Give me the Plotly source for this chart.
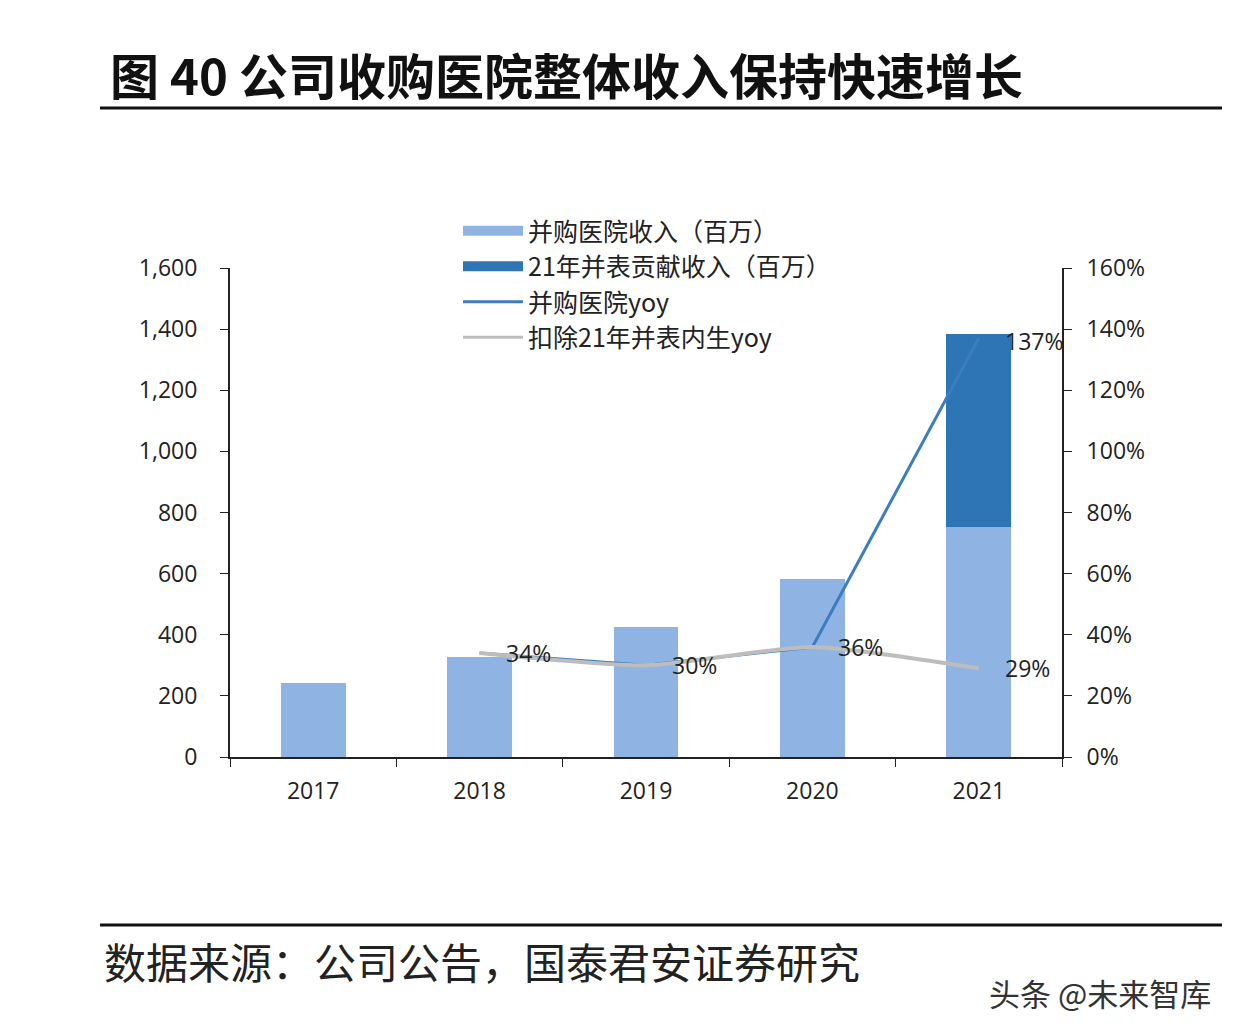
import plotly.graph_objects as go

years = ["2017", "2018", "2019", "2020", "2021"]
rev_acq = [242, 327, 425, 582, 753]
rev_consol21 = [0, 0, 0, 0, 631]
yoy_acq = [None, 0.34, 0.30, 0.36, 1.37]
yoy_organic = [None, 0.34, 0.30, 0.36, 0.29]
yoy_acq_labels = ["", "", "", "", "137%"]
yoy_org_labels = ["", "34%", "30%", "36%", "29%"]

CJK = "Noto Sans CJK SC"
NUM = "Open Sans"
LIGHT = "#8FB4E3"
DARK = "#2E75B6"
BLUE = "#3C7DC0"
GRAY = "#BDBDBD"

# plot area geometry in px (page has 8px body margin)
L, T, PW, PH = 222, 260, 832, 489
W, H = 1230, 1026


def px(xp):
    return (xp - 8 - L) / PW


def py(yp):
    return (T + 8 + PH - yp) / PH


fig = go.Figure()
fig.add_trace(go.Bar(x=years, y=rev_acq, name="并购医院收入（百万）", showlegend=False,
                     marker=dict(color=LIGHT, line=dict(width=0)), width=0.39))
fig.add_trace(go.Bar(x=years, y=rev_consol21, name="21年并表贡献收入（百万）", showlegend=False,
                     marker=dict(color=DARK, line=dict(width=0)), width=0.39))
fig.add_trace(go.Scatter(x=years, y=yoy_acq, name="并购医院yoy", mode="lines", showlegend=False,
                         line=dict(color=BLUE, width=3), yaxis="y2"))
fig.add_trace(go.Scatter(x=years, y=yoy_organic, name="扣除21年并表内生yoy", mode="lines", showlegend=False,
                         line=dict(color=GRAY, width=4, shape="spline", smoothing=0.6), yaxis="y2"))

# legend entries (wide rectangle swatches like the original)
fig.add_trace(go.Scatter(x=[None], y=[None], mode="lines", name="并购医院收入（百万）",
                         line=dict(color=LIGHT, width=15)))
fig.add_trace(go.Scatter(x=[None], y=[None], mode="lines", name="21年并表贡献收入（百万）",
                         line=dict(color=DARK, width=15)))
fig.add_trace(go.Scatter(x=[None], y=[None], mode="lines", name="并购医院yoy",
                         line=dict(color=BLUE, width=3)))
fig.add_trace(go.Scatter(x=[None], y=[None], mode="lines", name="扣除21年并表内生yoy",
                         line=dict(color=GRAY, width=3)))

for i, (v, lab) in enumerate(zip(yoy_organic, yoy_org_labels)):
    if lab:
        fig.add_annotation(x=i, y=v, xref="x", yref="y2", text=lab, showarrow=False,
                           xanchor="left", yanchor="middle", xshift=24,
                           font=dict(family=NUM, size=23, color="#222"))
for i, (v, lab) in enumerate(zip(yoy_acq, yoy_acq_labels)):
    if lab:
        fig.add_annotation(x=i, y=v, xref="x", yref="y2", text=lab, showarrow=False,
                           xanchor="left", yanchor="middle", xshift=24, yshift=-3,
                           font=dict(family=NUM, size=23, color="#222"))

tickf = dict(family=NUM, size=23, color="#222")
fig.update_layout(
    width=W, height=H,
    margin=dict(l=L, r=W - L - PW, t=T, b=H - T - PH, pad=0),
    paper_bgcolor="white", plot_bgcolor="white",
    barmode="stack", showlegend=True,
    font=dict(family=NUM, size=21, color="#222"),
    xaxis=dict(type="category", showline=True, linecolor="#222", linewidth=2,
               ticks="outside", tickson="boundaries", ticklen=8, tickcolor="#222",
               tickfont=tickf, showgrid=False, ticklabelstandoff=12, range=[-0.5, 4.5]),
    yaxis=dict(range=[0, 1600], dtick=200, tickformat=",", showline=True, linecolor="#222",
               linewidth=2, ticks="outside", ticklen=8, tickcolor="#222", showgrid=False,
               zeroline=False, tickfont=tickf, ticklabelstandoff=18),
    yaxis2=dict(range=[0, 1.6], dtick=0.2, tickformat=".0%", overlaying="y", side="right",
                showline=True, linecolor="#222", linewidth=2, ticks="outside", ticklen=8,
                tickcolor="#222", showgrid=False, zeroline=False,
                tickfont=tickf, ticklabelstandoff=10),
    legend=dict(x=px(458), y=py(208), xanchor="left", yanchor="top", bgcolor="rgba(0,0,0,0)",
                font=dict(family=CJK, size=25, color="#222"), traceorder="normal",
                itemwidth=60, tracegroupgap=0),
)

fig.add_annotation(text="<b>图 40 公司收购医院整体收入保持快速增长</b>", xref="paper", yref="paper",
                   x=px(108), y=py(73), xanchor="left", yanchor="middle",
                   showarrow=False, font=dict(family=CJK, size=49, color="#111"))
fig.add_shape(type="line", xref="paper", yref="paper", x0=px(100), x1=px(1222),
              y0=py(108), y1=py(108), line=dict(color="#111", width=3))
fig.add_shape(type="line", xref="paper", yref="paper", x0=px(100), x1=px(1222),
              y0=py(925), y1=py(925), line=dict(color="#111", width=3))
fig.add_annotation(text="数据来源：公司公告，国泰君安证券研究", xref="paper", yref="paper",
                   x=px(102), y=py(960), xanchor="left", yanchor="middle",
                   showarrow=False, font=dict(family=CJK, size=42, color="#222"))
fig.add_annotation(text="头条 @未来智库", xref="paper", yref="paper",
                   x=px(1213), y=py(992), xanchor="right", yanchor="middle",
                   showarrow=False, font=dict(family=CJK, size=31, color="#333"))

fig.write_html("out.html")
